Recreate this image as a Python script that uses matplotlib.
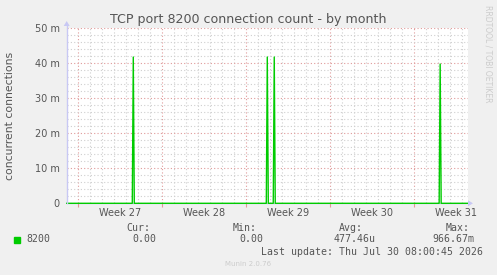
import matplotlib
matplotlib.use("Agg")
import matplotlib.pyplot as plt
from matplotlib.ticker import FixedLocator, MultipleLocator

# ── data (x in days from left edge of graph, y in connections) ───────────────
x_end = 33.45
week_starts = [0.917, 7.917, 14.917, 21.917, 28.917]
week_labels = ["Week 27", "Week 28", "Week 29", "Week 30", "Week 31"]
spike_days = [5.55, 16.72, 17.30, 31.13]
spike_vals = [0.0418, 0.0418, 0.0418, 0.0398]
y_ticks = [0, 0.01, 0.02, 0.03, 0.04, 0.05]
y_labels = ["0", "10 m", "20 m", "30 m", "40 m", "50 m"]
legend_name = "8200"
stats = {"Cur:": "0.00", "Min:": "0.00", "Avg:": "477.46u", "Max:": "966.67m"}
last_update = "Last update: Thu Jul 30 08:00:45 2026"

# ── colours ──────────────────────────────────────────────────────────────────
_BG = "#f0f0f0"
_TXT = "#555555"
_GREEN = "#00cc00"
_AXIS = "#c8c8f4"
_MINOR = "#cfcfcf"
_MAJOR = "#e09a9a"
_FAINT = "#cccccc"

W, H = 497, 275
fig = plt.figure(figsize=(W / 100, H / 100), dpi=100, facecolor=_BG)

L, R, T, B = 66.7, 468.0, 28.3, 203.3
ax = fig.add_axes([L / W, 1 - B / H, (R - L) / W, (B - T) / H])
ax.set_facecolor("white")
ax.set_xlim(0, x_end)
ax.set_ylim(0, 0.05)

# grid
ax.xaxis.set_major_locator(FixedLocator(week_starts))
ax.xaxis.set_minor_locator(FixedLocator([week_starts[0] - 1 + d for d in range(35)
                                         if week_starts[0] - 1 + d < x_end]))
ax.yaxis.set_major_locator(FixedLocator(y_ticks))
ax.yaxis.set_minor_locator(MultipleLocator(0.002))
ax.grid(True, which="minor", color=_MINOR, linestyle=(0, (1, 2)), linewidth=0.8)
ax.grid(True, which="major", color=_MAJOR, linestyle=(0, (1, 2)), linewidth=0.8)
ax.set_axisbelow(True)

ax.set_yticklabels(y_labels)
ax.tick_params(axis="y", which="both", length=0, labelsize=7, colors=_TXT, pad=5)
ax.tick_params(axis="x", which="major", length=3, direction="out", color=_MAJOR,
               labelbottom=False)
ax.tick_params(axis="x", which="minor", length=0)
for i, lab in enumerate(week_labels):
    ax.text(week_starts[i] + 3.5, -0.0027, lab, ha="center", va="center",
            fontsize=7, color=_TXT, clip_on=False)

for sp in ax.spines.values():
    sp.set_visible(False)

# series: baseline with narrow peaks
hw = 1 / 12
xs, ys = [0], [0]
for t, v in zip(spike_days, spike_vals):
    xs += [t - hw, t, t + hw]
    ys += [0, v, 0]
xs.append(x_end)
ys.append(0)
ax.plot(xs, ys, color=_GREEN, linewidth=1.0, clip_on=False, zorder=3)


def px(x, y):
    return (x / W, 1 - y / H)


# axes with arrows
fig.add_artist(plt.Line2D([L / W, L / W], [1 - B / H, 1 - 25 / H], color=_AXIS, lw=1))
fig.add_artist(plt.Line2D([L / W, 469 / W], [1 - B / H, 1 - B / H], color=_AXIS, lw=1, zorder=0))
fig.add_artist(plt.Polygon([px(L - 3, 26), px(L + 3, 26), px(L, 21)], closed=True,
                           transform=fig.transFigure, color=_AXIS, lw=0))
fig.add_artist(plt.Polygon([px(468, B - 3), px(468, B + 3), px(473, B)], closed=True,
                           transform=fig.transFigure, color=_AXIS, lw=0))


# texts
def ftxt(x, y, s, **kw):
    fig.text(x / W, 1 - y / H, s, **kw)


ftxt(248, 19, "TCP port 8200 connection count - by month", ha="center", va="center",
     fontsize=9.1, color=_TXT)
ftxt(10, 116, "concurrent connections", rotation=90, ha="center", va="center",
     fontsize=7.8, color=_TXT)
ftxt(488, 54, "RRDTOOL / TOBI OETIKER", rotation=270, ha="center", va="center",
     fontsize=5.5, color=_FAINT)

mono = dict(family="DejaVu Sans Mono", fontsize=7.1, color=_TXT, va="center")
fig.patches.append(plt.Rectangle((14 / W, 1 - 242.5 / H), 6 / W, 6 / H,
                                 transform=fig.transFigure, color=_GREEN))
ftxt(26, 239, legend_name, ha="left", **mono)
label_right = [150, 256.7, 363.3, 470]
value_right = [156.7, 263.3, 376, 474]
for (k, v), lx, vx in zip(stats.items(), label_right, value_right):
    ftxt(lx, 227.7, k, ha="right", **mono)
    ftxt(vx, 239, v, ha="right", **mono)
ftxt(482.7, 251.7, last_update, ha="right", **mono)
ftxt(248, 264, "Munin 2.0.76", ha="center", va="center", fontsize=5, color=_FAINT)

fig.savefig("out.png", dpi=100, facecolor=_BG)
